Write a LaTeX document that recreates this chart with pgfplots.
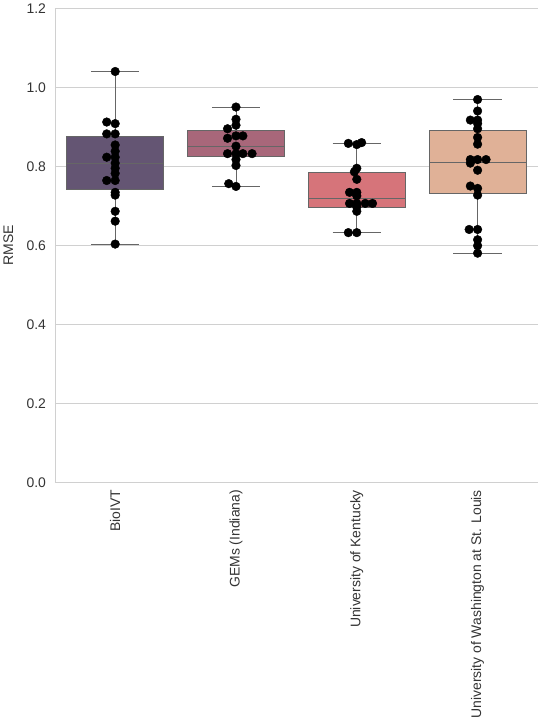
\documentclass[border=0pt]{standalone}
\usepackage{pgfplots}
\pgfplotsset{compat=1.18}
\usepackage{fontspec}
\setmainfont{Liberation Sans}
\definecolor{c1}{HTML}{645573}
\definecolor{c2}{HTML}{A8677A}
\definecolor{c3}{HTML}{D6747A}
\definecolor{c4}{HTML}{E0B197}
\definecolor{gridc}{HTML}{D0D0D0}
\definecolor{txt}{HTML}{333333}
\newcommand{\bx}[7]{% pos, lw, lq, med, uq, uw, color
  \addplot[draw=black!60,line width=0.8pt] coordinates {(#1,#2)(#1,#3)};
  \addplot[draw=black!60,line width=0.8pt] coordinates {(#1,#5)(#1,#6)};
  \addplot[draw=black!60,line width=0.8pt] coordinates {(#1-0.2,#2)(#1+0.2,#2)};
  \addplot[draw=black!60,line width=0.8pt] coordinates {(#1-0.2,#6)(#1+0.2,#6)};
  \addplot[draw=black!60,fill=#7,line width=0.8pt] coordinates {(#1-0.4,#3)(#1+0.4,#3)(#1+0.4,#5)(#1-0.4,#5)} --cycle;
  \addplot[draw=black!60,line width=0.8pt] coordinates {(#1-0.4,#4)(#1+0.4,#4)};
}
\begin{document}
\begin{tikzpicture}
\begin{axis}[
  width=468pt, height=459pt, scale only axis,
  xmin=-0.5, xmax=3.5, ymin=0, ymax=1.2,
  ytick={0,0.2,...,1.2},
  /pgf/number format/fixed, /pgf/number format/fixed zerofill, /pgf/number format/precision=1,
  /pgf/number format/assume math mode=true,
  xtick={0,1,2,3},
  xticklabels={BioIVT,GEMs (Indiana),University of Kentucky,University of Washington at St. Louis},
  xticklabel style={rotate=90,anchor=east,font=\fontsize{13.5}{15}\selectfont,text=txt,xshift=-4pt},
  yticklabel style={font=\fontsize{13.5}{15}\selectfont,text=txt,xshift=-5pt},
  ylabel={RMSE}, ylabel style={font=\fontsize{13.5}{15}\selectfont,text=txt,yshift=6pt},
  major tick length=0pt,
  axis line style={gridc},
  axis x line*=bottom, axis y line*=left,
  ymajorgrids, grid style={gridc,line width=0.8pt},
]
\bx{0}{0.603}{0.742}{0.808}{0.875}{1.040}{c1}
\bx{1}{0.749}{0.826}{0.851}{0.892}{0.950}{c2}
\bx{2}{0.632}{0.697}{0.719}{0.784}{0.858}{c3}
\bx{3}{0.580}{0.731}{0.810}{0.890}{0.969}{c4}
\addplot[only marks, mark=*, mark size=4.2pt, black] coordinates {
(0,1.040)(-0.07,0.912)(0,0.908)(-0.07,0.882)(0,0.882)(0,0.854)(0,0.838)(-0.07,0.823)(0,0.823)(0,0.808)(0,0.795)(0,0.782)(-0.07,0.764)(0,0.764)(0,0.734)(0,0.727)(0,0.686)(0,0.661)(0,0.603)
(1,0.950)(1,0.919)(1,0.904)(0.93,0.895)(1,0.877)(1.057,0.877)(0.93,0.871)(1,0.851)(0.93,0.832)(1,0.832)(1.057,0.832)(1.133,0.832)(1,0.817)(1,0.802)(0.94,0.756)(1,0.749)
(1.93,0.858)(2,0.855)(2.04,0.860)(2,0.795)(1.98,0.786)(2,0.767)(1.94,0.734)(2,0.734)(2,0.725)(1.94,0.706)(2,0.706)(2.07,0.706)(2.13,0.706)(2,0.697)(2,0.686)(1.93,0.632)(2,0.632)
(3,0.969)(3,0.940)(2.94,0.917)(3,0.917)(3,0.908)(3,0.895)(3,0.873)(3,0.856)(2.94,0.817)(3,0.817)(3.07,0.817)(2.94,0.808)(3,0.790)(2.94,0.750)(3,0.744)(3,0.727)(2.93,0.640)(3,0.640)(3,0.614)(3,0.599)(3,0.580)
};
\end{axis}
\end{tikzpicture}
\end{document}
